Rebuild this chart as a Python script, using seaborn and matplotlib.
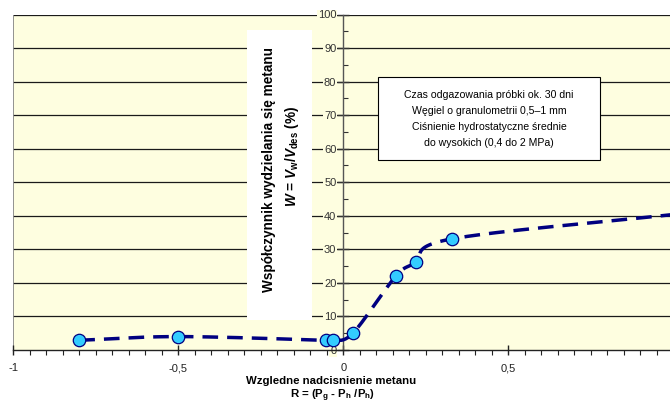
import numpy as np
import pandas as pd
import matplotlib
matplotlib.use("Agg")
import matplotlib.pyplot as plt
from matplotlib.patches import Rectangle
from matplotlib.ticker import MultipleLocator, FixedLocator, FuncFormatter
import seaborn as sns

# ---- data ----
r_values = [-0.80, -0.50, -0.052, -0.031, 0.029, 0.159, 0.220, 0.328, 1.02]
w_values = [2.9, 4.0, 2.9, 2.9, 5.0, 22.0, 26.1, 33.1, 40.6]
x_ticks = [-1, -0.5, 0, 0.5]
x_tick_labels = ["-1", "-0,5", "0", "0,5"]
y_ticks = [0, 10, 20, 30, 40, 50, 60, 70, 80, 90, 100]
note_lines = ["Czas odgazowania próbki ok. 30 dni",
              "Węgiel o granulometrii 0,5–1 mm",
              "Ciśnienie hydrostatyczne średnie",
              "do wysokich (0,4 do 2 MPa)"]
y_title_1 = "Współczynnik wydzielania się metanu"
y_title_2 = r"$W$ = $V_{\mathrm{w}}$/$V_{\mathrm{des}}$ (%)"
x_title_1 = "Wzgledne nadcisnienie metanu"
x_title_2 = r"R = (P$_{\mathrm{g}}$ - P$_{\mathrm{h}}$ /P$_{\mathrm{h}}$)"

sns.set_theme(style="white")
plt.rcParams["font.family"] = ["Liberation Sans", "DejaVu Sans"]
plt.rcParams["mathtext.fontset"] = "custom"
plt.rcParams["mathtext.rm"] = "Liberation Sans:bold"
plt.rcParams["mathtext.it"] = "Liberation Sans:bold:italic"
plt.rcParams["mathtext.bf"] = "Liberation Sans:bold"

W, H = 670, 403
BG = "#FEFEE0"
fig = plt.figure(figsize=(W / 100, H / 100), dpi=100)
fig.patch.set_facecolor("white")


def fx(px):
    return px / W


def fy(py):
    return 1 - py / H


ax_l, ax_r, ax_t, ax_b = 13.3, 670, 14.5, 350
ax = fig.add_axes([fx(ax_l), fy(ax_b), (ax_r - ax_l) / W, (ax_b - ax_t) / H])
ax.set_facecolor(BG)
ax.set_xlim(-1, 0.99)
ax.set_ylim(0, 100)
ax.set_axisbelow(True)

# smoothed curve (Catmull-Rom through the data points, like Excel smoothing)
P = np.column_stack([r_values, w_values])
ext = np.vstack([P[0] - (P[1] - P[0]), P, P[-1] + (P[-1] - P[-2])])
curve = []
for i in range(1, len(ext) - 2):
    p0, p1, p2, p3 = ext[i - 1], ext[i], ext[i + 1], ext[i + 2]
    c1 = p1 + (p2 - p0) / 6.0
    c2 = p2 - (p3 - p1) / 6.0
    t = np.linspace(0, 1, 40)[:, None]
    seg = ((1 - t) ** 3) * p1 + 3 * ((1 - t) ** 2) * t * c1 + 3 * (1 - t) * t ** 2 * c2 + t ** 3 * p2
    curve.append(seg if i == 1 else seg[1:])
curve = np.vstack(curve)
df_curve = pd.DataFrame({"R": curve[:, 0], "W": curve[:, 1]})
df_pts = pd.DataFrame({"R": r_values, "W": w_values})

# grid (drawn beneath the axis so tick labels mask it)
for yv in y_ticks[1:]:
    ax.axhline(yv, color="#1a1a1a", lw=0.9, zorder=0.2)
ax.axvline(-1, color="#8a8a8a", lw=1.3, zorder=0.2)

sns.lineplot(data=df_curve, x="R", y="W", sort=False, ax=ax, color="#000080",
             lw=2.5, zorder=3, estimator=None)
ax.lines[-1].set_dashes((4.5, 2.6))
ax.lines[-1].set_dash_capstyle("butt")
sns.scatterplot(data=df_pts, x="R", y="W", ax=ax, s=80, color="#33CCFF",
                edgecolor="#000080", linewidth=0.9, zorder=4)

# axes styling
for s in ["top", "right"]:
    ax.spines[s].set_visible(False)
ax.spines["left"].set_position(("data", 0))
ax.spines["left"].set_color("#555555")
ax.spines["left"].set_linewidth(1.0)
ax.spines["bottom"].set_color("#222222")
ax.spines["bottom"].set_linewidth(1.0)

ax.xaxis.set_major_locator(FixedLocator(x_ticks))
ax.xaxis.set_major_formatter(FuncFormatter(
    lambda v, p: x_tick_labels[x_ticks.index(round(v, 2))] if round(v, 2) in x_ticks else ""))
ax.xaxis.set_minor_locator(MultipleLocator(0.05))
ax.yaxis.set_major_locator(FixedLocator(y_ticks))
ax.yaxis.set_minor_locator(MultipleLocator(5))
ax.tick_params(axis="x", which="major", direction="inout", length=7, width=1.0,
               color="#222222", labelsize=8, labelcolor="#222222", pad=6, bottom=True)
ax.tick_params(axis="x", which="minor", direction="out", length=3.5, width=0.8,
               color="#222222", bottom=True)
ax.tick_params(axis="y", which="major", direction="inout", length=8, width=1.0,
               color="#333333", labelsize=8, labelcolor="#333333", pad=1, left=True)
ax.tick_params(axis="y", which="minor", direction="in", length=3.5, width=0.8,
               color="#333333", left=True)
for lab in ax.get_yticklabels():
    lab.set_bbox(dict(facecolor=BG, edgecolor="none", pad=0.6))
ax.set_xlabel("")
ax.set_ylabel("")

# white box behind the y title
fig.patches.append(Rectangle((fx(247), fy(320)), (312 - 247) / W, (320 - 30) / H,
                             transform=fig.transFigure, facecolor="white",
                             edgecolor="none", zorder=2))
fig.text(fx(269), fy(170), y_title_1, rotation=90, ha="center", va="center",
         fontsize=9.8, fontweight="bold", color="black", zorder=3)
fig.text(fx(292), fy(156), y_title_2, rotation=90, ha="center", va="center",
         fontsize=9.8, fontweight="bold", color="black", zorder=3)

# note box
fig.patches.append(Rectangle((fx(378), fy(160)), (600 - 378) / W, (160 - 77) / H,
                             transform=fig.transFigure, facecolor="white",
                             edgecolor="black", lw=0.8, zorder=2))
for i, line in enumerate(note_lines):
    fig.text(fx(489), fy(94.5 + 16 * i), line, ha="center", va="center",
             fontsize=7.6, color="black", zorder=3)

# x titles
fig.text(fx(331), fy(381), x_title_1, ha="center", va="center",
         fontsize=8.2, fontweight="bold", color="black")
fig.text(fx(333), fy(396), x_title_2, ha="center", va="center",
         fontsize=8.2, fontweight="bold", color="black")

fig.savefig("out.png", dpi=100)
